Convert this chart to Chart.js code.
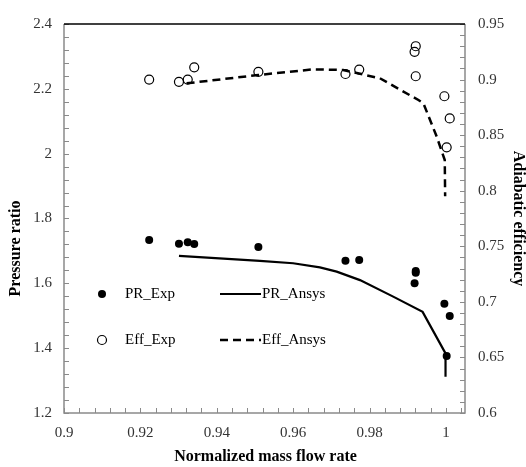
<!DOCTYPE html>
<html><head><meta charset="utf-8">
<script src="https://cdn.jsdelivr.net/npm/chart.js@4/dist/chart.umd.min.js"></script>
<style>html,body{margin:0;padding:0;background:#fff}</style>
</head><body>
<canvas id="c" width="526" height="467"></canvas>
<script>
const prExpFlow = [0.9223,0.9301,0.9324,0.9341,0.9509,0.9737,0.9773,0.9921,0.9921,0.9918,0.9996,1.0010,1.0002];
const prExpValues = [1.734,1.722,1.727,1.721,1.712,1.670,1.672,1.638,1.633,1.600,1.537,1.499,1.376];
const effExpFlow = [0.9223,0.9301,0.9324,0.9341,0.9509,0.9737,0.9773,0.9921,0.9918,0.9921,0.9996,1.0010,1.0002];
const effExpValues = [0.900,0.898,0.900,0.911,0.907,0.905,0.909,0.930,0.925,0.903,0.885,0.865,0.839];
const prAnsysFlow = [0.9301,0.9513,0.9600,0.9670,0.9714,0.9775,0.9862,0.9939,0.9999,0.9999];
const prAnsysValues = [1.685,1.669,1.662,1.649,1.636,1.610,1.559,1.512,1.384,1.312];
const effAnsysFlow = [0.9321,0.9509,0.9653,0.9731,0.9827,0.9928,0.9941,0.9976,0.9997,0.9998];
const effAnsysValues = [0.8966,0.9041,0.9092,0.9086,0.9012,0.8816,0.8787,0.8486,0.8276,0.795];

const flowTicks = [0.9,0.92,0.94,0.96,0.98,1];
const prTicks = [1.2,1.4,1.6,1.8,2,2.2,2.4];
const effTicks = [0.6,0.65,0.7,0.75,0.8,0.85,0.9,0.95];
const seriesNames = ['PR_Exp','PR_Ansys','Eff_Exp','Eff_Ansys'];
const axisTitles = ['Normalized mass flow rate','Pressure ratio','Adiabatic efficiency'];

const FONT = "'Liberation Serif', 'Times New Roman', serif";
const pts = (xs, ys) => xs.map((x, i) => ({x: x, y: ys[i]}));
const fmt = v => String(+(+v).toFixed(4));

const framePlugin = {
  id: 'frame',
  afterDatasetsDraw(chart) {
    const ctx = chart.ctx, a = chart.chartArea;
    const sx = chart.scales.x, sl = chart.scales.yPR, sr = chart.scales.yEff;
    ctx.save();
    ctx.strokeStyle = '#8a8a8a';
    ctx.lineWidth = 1;
    const L = 5;
    ctx.beginPath();
    for (let v = 0.9; v <= 1.0051; v += 0.004) {
      const p = Math.round(sx.getPixelForValue(v)) + 0.5;
      ctx.moveTo(p, a.bottom); ctx.lineTo(p, a.bottom - L);
    }
    for (let v = 1.2; v <= 2.4001; v += 0.04) {
      const p = Math.round(sl.getPixelForValue(v)) + 0.5;
      ctx.moveTo(a.left, p); ctx.lineTo(a.left + L, p);
    }
    for (let v = 0.6; v <= 0.9501; v += 0.01) {
      const p = Math.round(sr.getPixelForValue(v)) + 0.5;
      ctx.moveTo(a.right, p); ctx.lineTo(a.right - L, p);
    }
    ctx.stroke();
    ctx.lineWidth = 1.5;
    ctx.beginPath();
    ctx.moveTo(a.left, a.top); ctx.lineTo(a.left, a.bottom); ctx.lineTo(a.right, a.bottom); ctx.lineTo(a.right, a.top);
    ctx.stroke();
    ctx.strokeStyle = '#000';
    ctx.lineWidth = 1.5;
    ctx.beginPath();
    ctx.moveTo(a.left, a.top); ctx.lineTo(a.right, a.top);
    ctx.stroke();

    // legend
    const lx = a.left + 38, ly1 = a.top + 270, ly2 = a.top + 316;
    ctx.font = '15px ' + FONT;
    ctx.fillStyle = '#000';
    ctx.textBaseline = 'middle';
    ctx.textAlign = 'left';
    ctx.beginPath(); ctx.arc(lx, ly1, 4, 0, Math.PI * 2); ctx.fill();
    ctx.fillText(seriesNames[0], lx + 23, ly1);
    ctx.lineWidth = 1.2; ctx.strokeStyle = '#000';
    ctx.beginPath(); ctx.arc(lx, ly2, 4.5, 0, Math.PI * 2); ctx.stroke();
    ctx.fillText(seriesNames[2], lx + 23, ly2);
    ctx.lineWidth = 2.2;
    ctx.beginPath(); ctx.moveTo(lx + 118, ly1); ctx.lineTo(lx + 159, ly1); ctx.stroke();
    ctx.fillText(seriesNames[1], lx + 160, ly1);
    ctx.setLineDash([8, 5]);
    ctx.lineWidth = 2.5;
    ctx.beginPath(); ctx.moveTo(lx + 118, ly2); ctx.lineTo(lx + 159, ly2); ctx.stroke();
    ctx.setLineDash([]);
    ctx.fillText(seriesNames[3], lx + 160, ly2);

    // axis titles
    ctx.font = 'bold 16px ' + FONT;
    ctx.textAlign = 'center';
    ctx.textBaseline = 'middle';
    ctx.fillText(axisTitles[0], (a.left + a.right) / 2 + 1, chart.height - 10);
    ctx.save();
    ctx.translate(16, (a.top + a.bottom) / 2 + 30);
    ctx.rotate(-Math.PI / 2);
    ctx.fillText(axisTitles[1], 0, 0);
    ctx.restore();
    ctx.save();
    ctx.translate(chart.width - 8, (a.top + a.bottom) / 2);
    ctx.rotate(Math.PI / 2);
    ctx.fillText(axisTitles[2], 0, 0);
    ctx.restore();
    ctx.restore();
  }
};

new Chart(document.getElementById('c'), {
  type: 'scatter',
  data: {
    datasets: [
      {label: seriesNames[0], data: pts(prExpFlow, prExpValues), yAxisID: 'yPR',
       pointRadius: 4, pointBackgroundColor: '#000', pointBorderColor: '#000', pointBorderWidth: 0, showLine: false},
      {label: seriesNames[1], data: pts(prAnsysFlow, prAnsysValues), yAxisID: 'yPR',
       pointRadius: 0, showLine: true, borderColor: '#000', borderWidth: 2.2, tension: 0},
      {label: seriesNames[2], data: pts(effExpFlow, effExpValues), yAxisID: 'yEff',
       pointRadius: 4.5, pointBackgroundColor: 'rgba(255,255,255,0)', pointBorderColor: '#000', pointBorderWidth: 1.2, showLine: false},
      {label: seriesNames[3], data: pts(effAnsysFlow, effAnsysValues), yAxisID: 'yEff',
       pointRadius: 0, showLine: true, borderColor: '#000', borderWidth: 2.5, borderDash: [8, 5], tension: 0}
    ]
  },
  options: {
    responsive: false,
    animation: false,
    layout: {padding: {top: 24, left: 0, right: 0, bottom: 0}},
    plugins: {legend: {display: false}, tooltip: {enabled: false}},
    scales: {
      x: {
        type: 'linear', min: 0.9, max: 1.005,
        afterBuildTicks: s => { s.ticks = flowTicks.map(v => ({value: v})); },
        afterFit: s => { s.height = 54; },
        grid: {display: false, drawTicks: false},
        border: {display: false},
        ticks: {color: '#333', font: {family: FONT, size: 15}, padding: 11, callback: v => fmt(v), maxRotation: 0},
        title: {display: false}
      },
      yPR: {
        type: 'linear', position: 'left', min: 1.2, max: 2.4,
        afterBuildTicks: s => { s.ticks = prTicks.map(v => ({value: v})); },
        afterFit: s => { s.width = 64; },
        grid: {display: false, drawTicks: false},
        border: {display: false},
        ticks: {color: '#333', font: {family: FONT, size: 15}, padding: 12, callback: v => fmt(v)},
        title: {display: false}
      },
      yEff: {
        type: 'linear', position: 'right', min: 0.6, max: 0.95,
        afterBuildTicks: s => { s.ticks = effTicks.map(v => ({value: v})); },
        afterFit: s => { s.width = 61; },
        grid: {display: false, drawTicks: false},
        border: {display: false},
        ticks: {color: '#333', font: {family: FONT, size: 15}, padding: 13, callback: v => fmt(v)},
        title: {display: false}
      }
    }
  },
  plugins: [framePlugin]
});
</script>
</body></html>
